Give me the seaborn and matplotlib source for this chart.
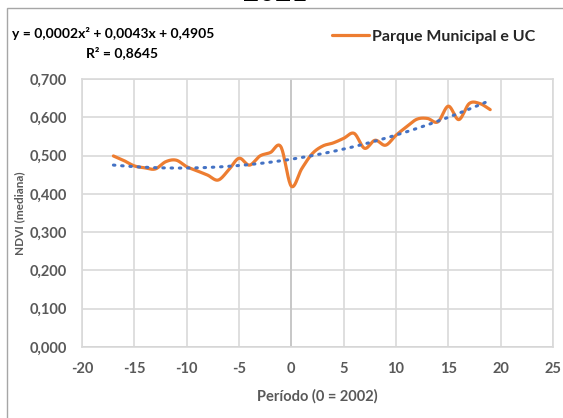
import numpy as np
import pandas as pd
import matplotlib
matplotlib.use("Agg")
import matplotlib.pyplot as plt
import seaborn as sns
from matplotlib.patches import Rectangle
from matplotlib.lines import Line2D

# ---- data ----
periodo = [-17, -16, -15, -14, -13, -12, -11, -10, -9, -8, -7, -6, -5, -4, -3, -2, -1,
           0, 1, 2, 3, 4, 5, 6, 7, 8, 9, 10, 11, 12, 13, 14, 15, 16, 17, 18, 19]
ndvi = [0.499, 0.487, 0.473, 0.468, 0.465, 0.484, 0.488, 0.471, 0.460, 0.449, 0.436, 0.462,
        0.493, 0.475, 0.499, 0.508, 0.523,
        0.420, 0.466, 0.505, 0.525, 0.533, 0.545, 0.558, 0.519, 0.540, 0.527, 0.553, 0.575,
        0.595, 0.597, 0.588, 0.629, 0.594, 0.636, 0.636, 0.620]
trend_coef = [0.0002, 0.0043, 0.4905]   # y = a x^2 + b x + c (Excel trendline)
series_name = "Parque Municipal e UC"
eq_text = "y = 0,0002x² + 0,0043x + 0,4905"
r2_text = "R² = 0,8645"
xticks = [-20, -15, -10, -5, 0, 5, 10, 15, 20, 25]
yticks = [0.0, 0.1, 0.2, 0.3, 0.4, 0.5, 0.6, 0.7]

sns.set_theme(style="white")
plt.rcParams['font.family'] = ['Lato', 'DejaVu Sans']

def catmull_rom(x, y, n=20):
    x = np.asarray(x, float); y = np.asarray(y, float)
    px = np.concatenate([[2*x[0]-x[1]], x, [2*x[-1]-x[-2]]])
    py = np.concatenate([[2*y[0]-y[1]], y, [2*y[-1]-y[-2]]])
    xs, ys = [], []
    t = np.linspace(0, 1, n, endpoint=False)
    for i in range(1, len(px)-2):
        p0, p1, p2, p3 = [np.array([px[j], py[j]]) for j in (i-1, i, i+1, i+2)]
        c1 = p1 + (p2 - p0) / 6
        c2 = p2 - (p3 - p1) / 6
        b = ((1-t)**3)[:, None]*p1 + (3*(1-t)**2*t)[:, None]*c1 + (3*(1-t)*t**2)[:, None]*c2 + (t**3)[:, None]*p2
        xs.append(b[:, 0]); ys.append(b[:, 1])
    xs.append([x[-1]]); ys.append([y[-1]])
    return np.concatenate(xs), np.concatenate(ys)

W, H = 563, 418
fig = plt.figure(figsize=(W/100, H/100), dpi=100)
ax = fig.add_axes([82/W, 1-347/H, (553-82)/W, (347-79)/H])

grid_c = "#d9d9d9"
ax.set_xlim(-20, 25)
ax.set_ylim(0, 0.7)
ax.set_xticks(xticks)
ax.set_yticks(yticks)
ax.grid(True, color=grid_c, linewidth=1.2)
ax.set_axisbelow(True)
for s in ax.spines.values():
    s.set_color(grid_c); s.set_linewidth(1.2)
ax.axvline(0, color="#c8c8c8", linewidth=1.4, zorder=1)
ax.axhline(0, color="#c8c8c8", linewidth=1.4, zorder=1)

sx, sy = catmull_rom(periodo, ndvi)
smooth = pd.DataFrame({"x": sx, "y": sy})
sns.lineplot(data=smooth, x="x", y="y", sort=False, color="#ED7D31", linewidth=2.3, ax=ax, zorder=3)

xt = np.linspace(min(periodo), max(periodo), 200)
yt = np.polyval(trend_coef, xt)
sns.lineplot(x=xt, y=yt, sort=False, color="#4472C4", linewidth=2.2, ax=ax, zorder=4,
             linestyle=(0, (0.5, 2.2)), dash_capstyle="round")

tc = "#595959"
ax.set_xticklabels([str(v) for v in xticks])
ax.set_yticklabels([f"{v:.3f}".replace(".", ",") for v in yticks])
ax.tick_params(axis="x", length=0, labelsize=10.5, labelcolor=tc, pad=11)
ax.tick_params(axis="y", length=0, labelsize=10.5, labelcolor=tc, pad=11)
for lab in ax.get_xticklabels() + ax.get_yticklabels():
    lab.set_fontweight("bold")
ax.set_xlabel("Período (0 = 2002)", fontsize=10.5, fontweight="bold", color=tc, labelpad=9)
ax.set_ylabel("NDVI (mediana)", fontsize=8.5, fontweight="bold", color=tc, labelpad=3)

# outer chart border and cut title
fig.patches.append(Rectangle((7/W, -0.1), 1.1, 1 - 8/H + 0.1, transform=fig.transFigure,
                             fill=False, edgecolor="#a6a6a6", linewidth=1.0))
fig.text(275/W, 1 - 6/H, "2021", ha="center", va="bottom", fontsize=20, fontweight="bold", color="black")

fig.text(12/W, 1 - 33/H, eq_text, ha="left", va="center", fontsize=10, fontweight="bold", color="black")
fig.text(122/W, 1 - 53/H, r2_text, ha="center", va="center", fontsize=10, fontweight="bold", color="black")

handle = Line2D([], [], color="#ED7D31", linewidth=2.3)
fig.legend([handle], [series_name], loc="center left", bbox_to_anchor=(326/W, 1 - 37/H),
           frameon=False, prop={"weight": "bold", "size": 11.5},
           handlelength=2.3, handletextpad=0.15, borderaxespad=0)

fig.savefig("out.png", dpi=100)
